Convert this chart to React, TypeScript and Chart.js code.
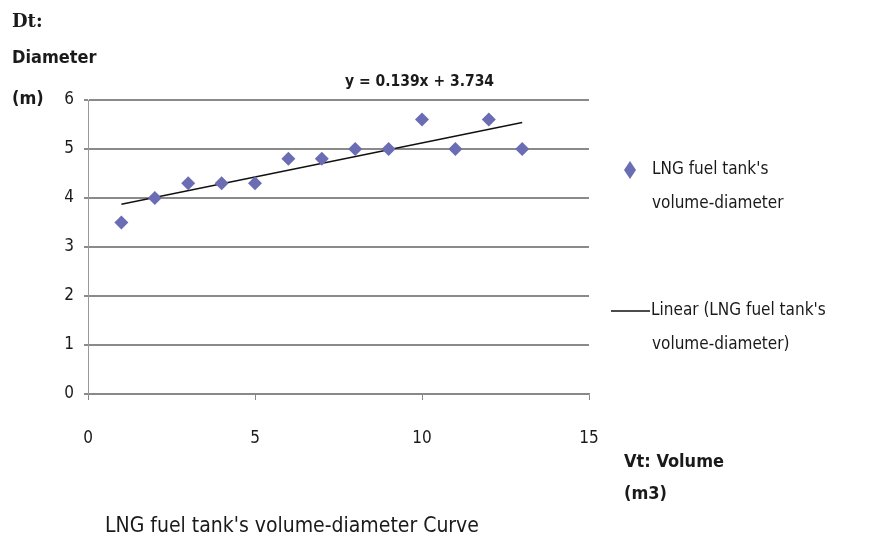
import React, { useEffect, useRef } from "react";
import { Chart, registerables } from "chart.js";
Chart.register(...registerables);

const volumes = [1, 2, 3, 4, 5, 6, 7, 8, 9, 10, 11, 12, 13];
const diameters = [3.5, 4.0, 4.3, 4.3, 4.3, 4.8, 4.8, 5.0, 5.0, 5.6, 5.0, 5.6, 5.0];
const trendX = [1, 13];
const trendY = [3.873, 5.541];
const equationLabel = "y = 0.139x + 3.734";
const seriesName = "LNG fuel tank's volume-diameter";
const chartTitle = "LNG fuel tank's volume-diameter Curve";
const yTitleLines = ["Dt:", "Diameter", "(m)"];
const xTitleLines = ["Vt: Volume", "(m3)"];

const FONT = "'Liberation Sans Narrow', 'DejaVu Sans Condensed', sans-serif";
const MARK = "#6a6db4";

const textPlugin = {
  id: "texts",
  afterDraw(chart: any) {
    const ctx = chart.ctx;
    ctx.save();
    ctx.fillStyle = "#1a1a1a";
    ctx.textBaseline = "middle";
    ctx.textAlign = "left";
    // Y title
    ctx.font = `bold 18px 'DejaVu Serif', serif`;
    ctx.fillText(yTitleLines[0], 12, 22);
    ctx.font = `bold 18px ${FONT}`;
    ctx.fillText(yTitleLines[1], 12, 58);
    ctx.fillText(yTitleLines[2], 12, 99);
    // X title
    ctx.fillText(xTitleLines[0], 624, 462);
    ctx.fillText(xTitleLines[1], 624, 494);
    // equation
    ctx.font = `bold 15.5px ${FONT}`;
    ctx.fillText(equationLabel, 345, 82);
    // legend
    ctx.font = `17px ${FONT}`;
    ctx.fillStyle = MARK;
    ctx.beginPath();
    ctx.moveTo(630, 161);
    ctx.lineTo(636, 170);
    ctx.lineTo(630, 179);
    ctx.lineTo(624, 170);
    ctx.closePath();
    ctx.fill();
    ctx.fillStyle = "#1a1a1a";
    ctx.fillText("LNG fuel tank's", 652, 170);
    ctx.fillText("volume-diameter", 652, 204);
    ctx.strokeStyle = "#111";
    ctx.lineWidth = 1.5;
    ctx.beginPath();
    ctx.moveTo(611, 311);
    ctx.lineTo(650, 311);
    ctx.stroke();
    ctx.fillText("Linear (LNG fuel tank's", 651, 311);
    ctx.fillText("volume-diameter)", 652, 345);
    // bottom title
    ctx.font = `21px ${FONT}`;
    ctx.fillText(chartTitle, 105, 527);
    ctx.restore();
  },
};

export default function App() {
  const ref = useRef<HTMLCanvasElement>(null);
  useEffect(() => {
    const chart = new Chart(ref.current!, {
      type: "scatter",
      data: {
        datasets: [
          {
            label: seriesName,
            data: volumes.map((v, i) => ({ x: v, y: diameters[i] })),
            pointStyle: "rectRot",
            radius: 7,
            backgroundColor: MARK,
            borderColor: MARK,
            borderWidth: 0,
          },
          {
            type: "line",
            label: "Linear (" + seriesName + ")",
            data: trendX.map((v, i) => ({ x: v, y: trendY[i] })),
            borderColor: "#111",
            borderWidth: 1.5,
            pointRadius: 0,
            fill: false,
          } as any,
        ],
      },
      options: {
        animation: false,
        responsive: false,
        layout: { padding: { left: 48, right: 287, top: 100, bottom: 100 } },
        plugins: { legend: { display: false }, tooltip: { enabled: false } },
        scales: {
          x: {
            type: "linear",
            min: 0,
            max: 15,
            ticks: { stepSize: 5, padding: 28, color: "#1a1a1a", font: { family: FONT, size: 17 } },
            grid: { drawOnChartArea: false, drawTicks: true, tickLength: 6, color: "#888" },
            border: { color: "#888", width: 1.5 },
            afterFit: (s: any) => { s.height = 50; },
          },
          y: {
            min: 0,
            max: 6,
            ticks: { stepSize: 1, padding: 10, color: "#1a1a1a", font: { family: FONT, size: 17 } },
            grid: { color: "#8a8a8a", lineWidth: 2, drawTicks: true, tickLength: 4 },
            border: { color: "#999", width: 1 },
            afterFit: (s: any) => { s.width = 40; },
          },
        },
      },
      plugins: [textPlugin],
    });
    return () => chart.destroy();
  }, []);
  return (
    <div style={{ position: "fixed", left: 0, top: 0, width: 876, height: 544, background: "#fff" }}>
      <canvas ref={ref} width={876} height={544} />
    </div>
  );
}
